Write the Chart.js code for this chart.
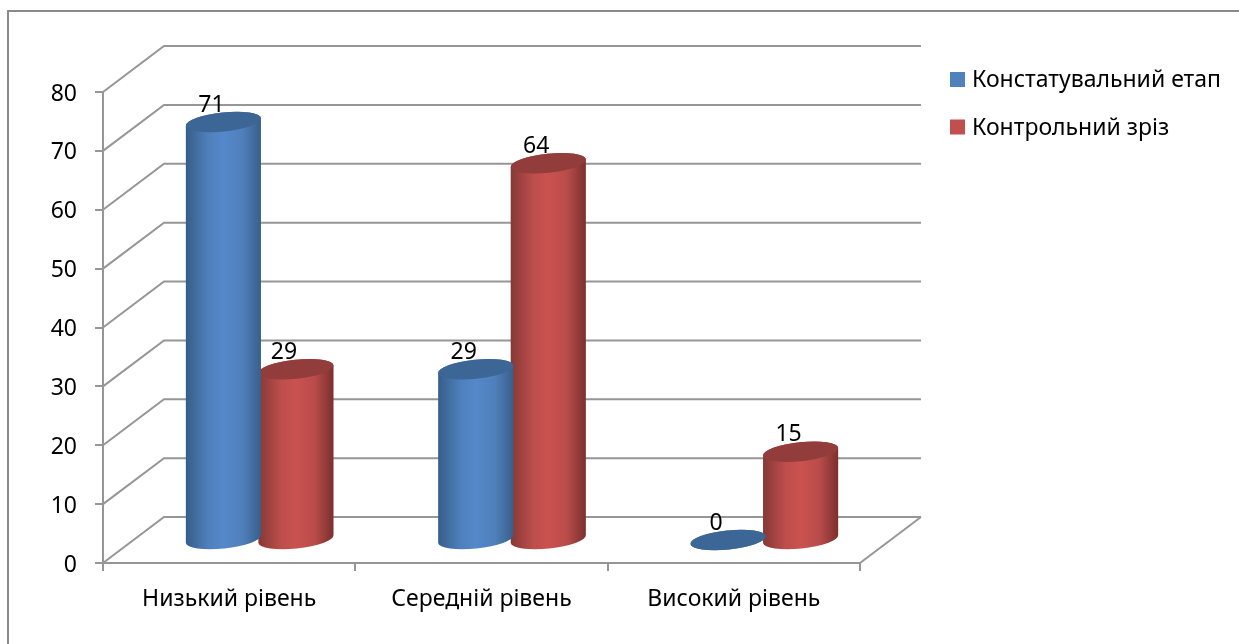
<!DOCTYPE html>
<html lang="uk">
<head>
<meta charset="utf-8">
<title>Рівні сформованості</title>
<style>
  html, body { margin: 0; padding: 0; background: #fff; }
  #wrap { width: 1239px; height: 644px; }
</style>
<script src="https://cdn.jsdelivr.net/npm/chart.js@4/dist/chart.umd.min.js"></script>
</head>
<body>
<div id="wrap"><canvas id="grafik" width="1239" height="644"></canvas></div>
<script>
  const rivni = ['Низький рівень', 'Середній рівень', 'Високий рівень'];
  const konstatuvalnyi = [71, 29, 0];
  const kontrolnyi = [29, 64, 15];
  const yTicks = [0, 10, 20, 30, 40, 50, 60, 70, 80];

  const FONT = "'Noto Sans', sans-serif";
  const FONT_SIZE = 23;
  const LINE = '#969696';
  const DEPTH_X = 61;
  const DEPTH_Y = -46;
  const TILT = -6 * Math.PI / 180;
  const CAP_RY = 9.5;

  const KOLIR = [
    { legend: '#4F81BD', cap: '#3C6695', stops: ['#365D88', '#4F80BC', '#5588CA', '#4F80BC', '#395F89'] },
    { legend: '#C0504D', cap: '#923C3B', stops: ['#853836', '#BC4E4B', '#CA5250', '#B84C4A', '#7A2F2E'] }
  ];

  function sideGradient(ctx, left, right, stops) {
    const g = ctx.createLinearGradient(left, 0, right, 0);
    g.addColorStop(0, stops[0]);
    g.addColorStop(0.3, stops[1]);
    g.addColorStop(0.5, stops[2]);
    g.addColorStop(0.75, stops[3]);
    g.addColorStop(1, stops[4]);
    return g;
  }

  // frame, back wall and floor of the 3D box
  const boxPlugin = {
    id: 'box3d',
    beforeDatasetsDraw(chart) {
      const { ctx, scales: { y }, chartArea: a } = chart;
      ctx.save();
      ctx.strokeStyle = '#8A8A8A';
      ctx.lineWidth = 2;
      ctx.beginPath();
      ctx.moveTo(8, 644);
      ctx.lineTo(8, 11);
      ctx.lineTo(1239, 11);
      ctx.stroke();

      ctx.strokeStyle = LINE;
      ctx.lineWidth = 2;
      yTicks.forEach(function (v) {
        const py = y.getPixelForValue(v);
        ctx.beginPath();
        ctx.moveTo(a.left, py);
        ctx.lineTo(a.left + DEPTH_X, py + DEPTH_Y);
        ctx.lineTo(a.right + DEPTH_X, py + DEPTH_Y);
        ctx.stroke();
      });
      const floor = y.getPixelForValue(0);
      ctx.beginPath();
      ctx.moveTo(a.right + DEPTH_X, floor + DEPTH_Y);
      ctx.lineTo(a.right, floor);
      ctx.stroke();

      // y labels sit a little below their tick marks
      ctx.font = FONT_SIZE + 'px ' + FONT;
      ctx.fillStyle = '#000';
      ctx.textAlign = 'right';
      ctx.textBaseline = 'middle';
      yTicks.forEach(function (v) {
        ctx.fillText(String(v), a.left - 26, y.getPixelForValue(v) + 2);
      });
      ctx.restore();
    }
  };

  // cylinders instead of flat rectangles, placed mid-depth in the box
  const cylinderPlugin = {
    id: 'cylinder',
    beforeDatasetDraw(chart, args) {
      const { ctx } = chart;
      const kolir = KOLIR[args.index];
      ctx.save();
      ctx.translate(DEPTH_X / 2, DEPTH_Y / 2);
      args.meta.data.forEach(function (bar) {
        const rx = bar.width / 2 + 1.5;
        ctx.fillStyle = sideGradient(ctx, bar.x - rx, bar.x + rx, kolir.stops);
        ctx.beginPath();
        ctx.ellipse(bar.x, bar.base, rx, CAP_RY, TILT, 0, Math.PI);
        ctx.ellipse(bar.x, bar.y, rx, CAP_RY, TILT, Math.PI, Math.PI * 2);
        ctx.closePath();
        ctx.fill();
        ctx.fillStyle = kolir.cap;
        ctx.beginPath();
        ctx.ellipse(bar.x, bar.y, rx, CAP_RY, TILT, 0, Math.PI * 2);
        ctx.fill();
      });
      ctx.restore();
      return false;
    },
    afterDatasetsDraw(chart) {
      const { ctx } = chart;
      ctx.save();
      ctx.font = FONT_SIZE + 'px ' + FONT;
      ctx.fillStyle = '#000';
      ctx.textAlign = 'center';
      ctx.textBaseline = 'middle';
      chart.data.datasets.forEach(function (ds, i) {
        chart.getDatasetMeta(i).data.forEach(function (bar, j) {
          ctx.fillText(String(ds.data[j]), bar.x + DEPTH_X / 2 - 12, bar.y + DEPTH_Y / 2 - 17);
        });
      });
      ctx.restore();
    }
  };

  const legendPlugin = {
    id: 'legendaPravoruch',
    afterDraw(chart) {
      const { ctx } = chart;
      ctx.save();
      ctx.font = FONT_SIZE + 'px ' + FONT;
      ctx.textBaseline = 'middle';
      chart.data.datasets.forEach(function (ds, i) {
        const top = 72 + i * 47.5;
        ctx.fillStyle = KOLIR[i].legend;
        ctx.fillRect(950, top, 15, 15);
        ctx.fillStyle = '#000';
        ctx.fillText(ds.label, 972, top + 8.5);
      });
      ctx.restore();
    }
  };

  new Chart(document.getElementById('grafik'), {
    type: 'bar',
    data: {
      labels: rivni,
      datasets: [
        { label: 'Констатувальний етап', data: konstatuvalnyi, backgroundColor: KOLIR[0].legend },
        { label: 'Контрольний зріз', data: kontrolnyi, backgroundColor: KOLIR[1].legend }
      ]
    },
    options: {
      responsive: false,
      animation: false,
      layout: { padding: { left: 0, top: 92, right: 379, bottom: 0 } },
      datasets: { bar: { barPercentage: 1, categoryPercentage: 0.575 } },
      plugins: { legend: { display: false }, tooltip: { enabled: false } },
      scales: {
        x: {
          afterFit(s) { s.height = 81; },
          border: { color: LINE, width: 2 },
          grid: { drawOnChartArea: false, color: LINE, lineWidth: 2, tickLength: 8 },
          ticks: { color: '#000', font: { family: FONT, size: FONT_SIZE }, padding: 15, maxRotation: 0 }
        },
        y: {
          min: 0,
          max: 80,
          afterFit(s) { s.width = 103; },
          afterBuildTicks(s) { s.ticks = yTicks.map(function (v) { return { value: v }; }); },
          border: { color: LINE, width: 2 },
          grid: { drawOnChartArea: false, color: LINE, lineWidth: 2, tickLength: 8 },
          ticks: { display: false }
        }
      }
    },
    plugins: [boxPlugin, cylinderPlugin, legendPlugin]
  });
</script>
</body>
</html>
